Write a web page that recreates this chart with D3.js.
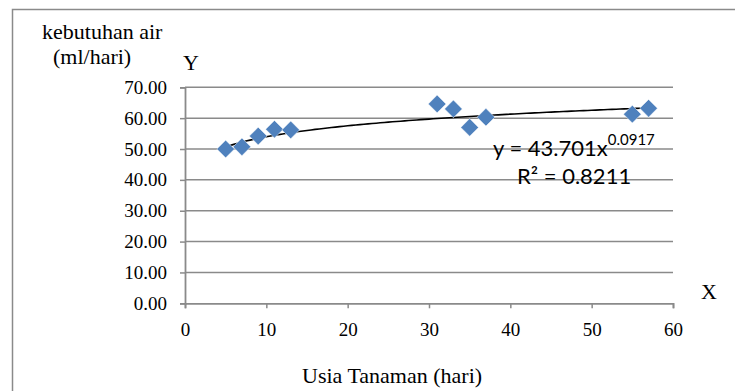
<!DOCTYPE html>
<html>
<head>
<meta charset="utf-8">
<script src="https://cdn.jsdelivr.net/npm/d3@7"></script>
<style>
  body { margin: 0; background: #fff; }
  svg { display: block; }
</style>
</head>
<body>
<svg id="chart" width="735" height="391"></svg>
<script>
// data
const usia = [5, 7, 9, 11, 13, 31, 33, 35, 37, 55, 57];
const kebutuhan = [50.0, 50.7, 54.2, 56.4, 56.2, 64.6, 63.0, 57.0, 60.3, 61.3, 63.2];
const xTicks = [0, 10, 20, 30, 40, 50, 60];
const yTicks = [0, 10, 20, 30, 40, 50, 60, 70];
// power trendline shown on the chart
const koefA = 43.701;
const pangkatB = 0.0917;
const persamaan = 'y = 43.701x';
const pangkatLabel = '0.0917';
const r2Label = 'R² = 0.8211';

let svg = d3.select('#chart');
let gray = '#8a8a8a';
let serif = '"Liberation Serif", "Times New Roman", serif';

// bingkai luar
svg.append('rect')
    .attr('x', 12.5).attr('y', 9.5)
    .attr('width', 800).attr('height', 500)
    .attr('fill', 'none')
    .attr('stroke', gray)
    .attr('stroke-width', 1.5);

let xScale = d3.scaleLinear().domain([0, 60]).range([185, 673]);
let yScale = d3.scaleLinear().domain([0, 70]).range([303.3, 87.3]);

//garis grid
svg.append('g')
    .selectAll('line')
    .data(yTicks.filter(d => d > 0))
    .enter()
    .append('line')
    .attr('x1', xScale(0)).attr('x2', xScale(60))
    .attr('y1', d => yScale(d)).attr('y2', d => yScale(d))
    .attr('stroke', gray)
    .attr('stroke-width', 1.5);

//sumbu y
let yAxis = svg.append('g')
    .attr('transform', `translate(${xScale(0)},0)`)
    .call(d3.axisLeft(yScale).tickValues(yTicks).tickFormat(d3.format('.2f')).tickSize(5).tickPadding(13));
//sumbu x
let xAxis = svg.append('g')
    .attr('transform', `translate(0,${yScale(0)})`)
    .call(d3.axisBottom(xScale).tickValues(xTicks).tickSize(5).tickPadding(14));

[yAxis, xAxis].forEach(function(ax){
    ax.select('.domain').attr('stroke', gray).attr('stroke-width', 1.8);
    ax.selectAll('.tick line').attr('stroke', gray).attr('stroke-width', 1.5);
    ax.selectAll('text')
        .attr('fill', '#000')
        .style('font-family', serif)
        .style('font-size', '19px');
});

//garis tren (power)
let xs = d3.range(usia[0], usia[usia.length - 1] + 0.01, 0.5);
let trend = d3.line()
    .x(d => xScale(d))
    .y(d => yScale(koefA * Math.pow(d, pangkatB)));
svg.append('path')
    .datum(xs)
    .attr('d', trend)
    .attr('fill', 'none')
    .attr('stroke', '#000')
    .attr('stroke-width', 1.6);

//titik data berbentuk belah ketupat
let diamond = d3.symbol().type(d3.symbolDiamond2).size(200);
svg.append('g')
    .selectAll('path')
    .data(usia)
    .enter()
    .append('path')
    .attr('d', diamond)
    .attr('transform', (d, i) => `translate(${xScale(d)},${yScale(kebutuhan[i])})`)
    .attr('fill', '#4f81bd')
    .attr('stroke', '#ffffff')
    .attr('stroke-width', 0.5);

// persamaan tren
let eq = svg.append('text')
    .attr('x', 493).attr('y', 156)
    .style('font-family', 'Lato, "Open Sans", sans-serif')
    .style('font-size', '22px')
    .attr('fill', '#000');
eq.append('tspan').text(persamaan);
eq.append('tspan').attr('dy', -11).style('font-size', '15px').text(pangkatLabel);
svg.append('text')
    .attr('x', 517).attr('y', 184)
    .style('font-family', 'Lato, "Open Sans", sans-serif')
    .style('font-size', '22px')
    .attr('fill', '#000')
    .text(r2Label);

//judul sumbu
let judul = svg.append('g')
    .style('font-family', serif)
    .style('font-size', '22px')
    .attr('fill', '#000');
judul.append('text').attr('x', 42).attr('y', 39).text('kebutuhan air');
judul.append('text').attr('x', 53).attr('y', 64).text('(ml/hari)');
judul.append('text').attr('x', 183).attr('y', 70).text('Y');
judul.append('text').attr('x', 701).attr('y', 299).text('X');
judul.append('text').attr('x', 302).attr('y', 383).text('Usia Tanaman (hari)');
</script>
</body>
</html>
